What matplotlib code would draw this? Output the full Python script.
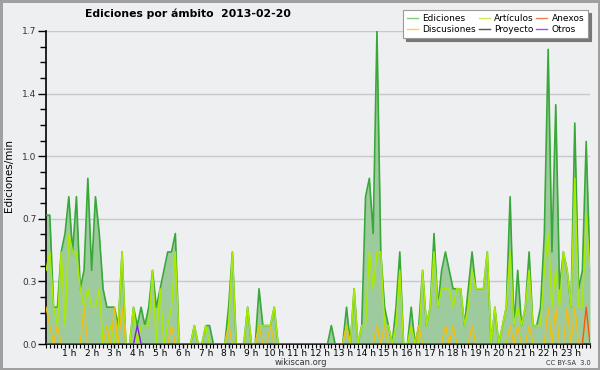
import numpy as np
import matplotlib
matplotlib.use('Agg')
import matplotlib.pyplot as plt
from matplotlib.lines import Line2D

# edits per minute, one value per 10 minutes (144 slots, 0h -> 23h50)
ediciones = [
    0.7, 0.7, 0.2, 0.2, 0.5, 0.6,
    0.8, 0.5, 0.8, 0.3, 0.4, 0.9,
    0.4, 0.8, 0.6, 0.3, 0.2, 0.2,
    0.2, 0.1, 0.5, 0.0, 0.0, 0.2,
    0.1, 0.2, 0.1, 0.2, 0.4, 0.2,
    0.3, 0.4, 0.5, 0.5, 0.6, 0.0,
    0.0, 0.0, 0.0, 0.1, 0.0, 0.0,
    0.1, 0.1, 0.0, 0.0, 0.0, 0.0,
    0.2, 0.5, 0.0, 0.0, 0.0, 0.2,
    0.0, 0.0, 0.3, 0.1, 0.1, 0.1,
    0.2, 0.0, 0.0, 0.0, 0.0, 0.0,
    0.0, 0.0, 0.0, 0.0, 0.0, 0.0,
    0.0, 0.0, 0.0, 0.1, 0.0, 0.0,
    0.0, 0.2, 0.0, 0.3, 0.0, 0.1,
    0.8, 0.9, 0.6, 1.7, 0.5, 0.2,
    0.1, 0.0, 0.2, 0.5, 0.0, 0.0,
    0.2, 0.0, 0.1, 0.4, 0.1, 0.2,
    0.6, 0.2, 0.4, 0.5, 0.4, 0.3,
    0.3, 0.3, 0.1, 0.3, 0.5, 0.3,
    0.3, 0.3, 0.5, 0.0, 0.2, 0.0,
    0.1, 0.2, 0.8, 0.1, 0.4, 0.1,
    0.2, 0.5, 0.1, 0.1, 0.2, 0.6,
    1.6, 0.5, 1.3, 0.3, 0.5, 0.4,
    0.2, 1.2, 0.3, 0.4, 1.1, 0.4,
]

articulos = [
    0.4, 0.5, 0.2, 0.1, 0.5, 0.1,
    0.6, 0.5, 0.5, 0.3, 0.2, 0.3,
    0.2, 0.2, 0.3, 0.0, 0.0, 0.1,
    0.0, 0.1, 0.5, 0.0, 0.0, 0.2,
    0.0, 0.1, 0.1, 0.1, 0.4, 0.0,
    0.3, 0.0, 0.1, 0.2, 0.5, 0.0,
    0.0, 0.0, 0.0, 0.1, 0.0, 0.0,
    0.1, 0.0, 0.0, 0.0, 0.0, 0.0,
    0.1, 0.5, 0.0, 0.0, 0.0, 0.2,
    0.0, 0.0, 0.1, 0.1, 0.1, 0.1,
    0.2, 0.0, 0.0, 0.0, 0.0, 0.0,
    0.0, 0.0, 0.0, 0.0, 0.0, 0.0,
    0.0, 0.0, 0.0, 0.0, 0.0, 0.0,
    0.0, 0.1, 0.0, 0.3, 0.0, 0.1,
    0.1, 0.5, 0.3, 0.5, 0.5, 0.1,
    0.1, 0.0, 0.1, 0.4, 0.0, 0.0,
    0.1, 0.0, 0.0, 0.4, 0.1, 0.2,
    0.5, 0.2, 0.3, 0.3, 0.3, 0.2,
    0.3, 0.3, 0.1, 0.2, 0.4, 0.3,
    0.3, 0.3, 0.5, 0.0, 0.2, 0.0,
    0.1, 0.2, 0.5, 0.1, 0.2, 0.1,
    0.2, 0.4, 0.1, 0.1, 0.1, 0.4,
    0.6, 0.2, 0.4, 0.2, 0.5, 0.4,
    0.2, 0.9, 0.2, 0.2, 0.7, 0.4,
]

# sparse series: slot index -> value
discusiones_pts = {0: 0.2, 1: 0.1, 3: 0.1, 10: 0.2, 16: 0.1, 18: 0.2, 20: 0.2,
                   33: 0.1, 48: 0.1, 56: 0.1, 59: 0.1, 79: 0.1, 87: 0.1, 89: 0.1,
                   98: 0.1, 105: 0.1, 107: 0.1, 112: 0.1, 122: 0.1, 124: 0.1,
                   127: 0.1, 132: 0.2, 134: 0.2, 137: 0.2, 139: 0.2, 142: 0.2}
anexos_pts = {142: 0.2}
otros_pts = {24: 0.1}

hour_labels = ['{} h'.format(h) for h in range(1, 24)]
legend_names = ['Ediciones', 'Discusiones', 'Artículos', 'Proyecto', 'Anexos', 'Otros']
legend_colors = ['#7ccc7c', '#f5d44a', '#cdee55', '#555555', '#f08050', '#9955ee']

BG = '#eeeff1'


def sparse(pts, n=144):
    vals = np.zeros(n)
    for i, v in pts.items():
        vals[i] = v
    return vals


def main():
    x = np.arange(len(ediciones))

    fig = plt.figure(figsize=(6, 3.7), dpi=100, facecolor=BG,
                     edgecolor='#a0a0a0', linewidth=2.5)
    ax = fig.add_axes([46 / 600, 1 - 344 / 370, 544 / 600, 313 / 370])
    ax.set_facecolor(BG)

    ax.fill_between(x, ediciones, color='#9ecb9e', lw=0, zorder=2)
    ax.plot(x, ediciones, color='#38a838', lw=1.2, zorder=3)
    ax.plot(x, articulos, color='#aaea00', lw=1.1, zorder=4)
    ax.plot(x, sparse(discusiones_pts), color='#f2bf10', lw=1.0, zorder=5)
    ax.plot(x, sparse(anexos_pts), color='#f05a18', lw=1.0, zorder=6)
    ax.plot(x, sparse(otros_pts), color='#7a22e0', lw=1.0, zorder=6)

    ax.set_xlim(0, 143)
    ax.set_ylim(0, 1.7)

    yt = np.linspace(0, 1.7, 6)
    ax.set_yticks(yt)
    ax.set_yticklabels(['{:.1f}'.format(v) for v in yt])
    ax.set_yticks(np.linspace(0, 1.7, 21), minor=True)
    ax.set_xticks(np.arange(6, 144, 6))
    ax.set_xticklabels(hour_labels)
    ax.set_xticks(np.arange(0, 144, 1), minor=True)

    ax.tick_params(axis='y', which='major', length=6, width=1, pad=1,
                   labelsize=6.5, labelcolor='#333333')
    ax.tick_params(axis='y', which='minor', length=4, width=1)
    ax.tick_params(axis='x', which='major', length=3, width=1, pad=0.5, labelsize=6.5)
    ax.tick_params(axis='x', which='minor', length=3, width=0.8)

    for v in yt[1:]:
        ax.axhline(v, color='#c8c8c8', lw=1, zorder=1)

    for side in ['top', 'right']:
        ax.spines[side].set_visible(False)
    ax.spines['left'].set_linewidth(1.2)
    ax.spines['bottom'].set_linewidth(1.2)

    fig.text(0.0155, 0.525, 'Ediciones/min', rotation=90, ha='center', va='center',
             fontsize=7.5)
    fig.text(0.3125, 0.962, 'Ediciones por ámbito  2013-02-20', ha='center', va='center',
             fontsize=7.8, fontweight='bold')
    fig.text(0.502, 0.02, 'wikiscan.org', ha='center', va='center', fontsize=6,
             color='#333333')
    fig.text(0.948, 0.02, 'CC BY-SA  3.0', ha='center', va='center', fontsize=4.8,
             color='#333333')

    handles = [Line2D([], [], color=c, lw=1) for c in legend_colors]
    leg = ax.legend(handles, legend_names, ncol=3, loc='upper left',
                    bbox_to_anchor=(403 / 600, 1 - 10 / 370), bbox_transform=fig.transFigure,
                    fontsize=6.5, frameon=True, fancybox=False,
                    shadow={'color': '#777777', 'alpha': 1, 'ox': 2, 'oy': -2},
                    handlelength=1.2, handletextpad=0.5, columnspacing=0.3,
                    labelspacing=0.2, borderpad=0.45, borderaxespad=0)
    leg.get_frame().set_edgecolor('#999999')
    leg.get_frame().set_linewidth(0.8)
    leg.set_zorder(10)

    fig.savefig('out.png', dpi=100, facecolor=BG)


if __name__ == '__main__':
    main()
